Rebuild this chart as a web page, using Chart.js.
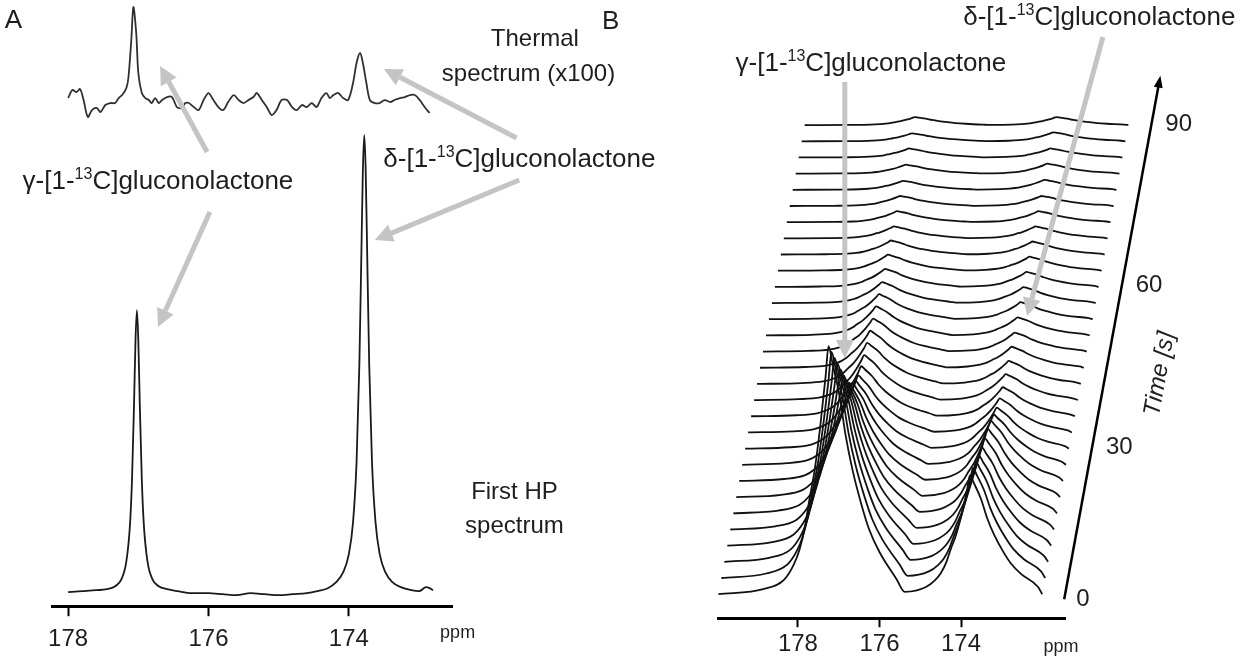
<!DOCTYPE html>
<html>
<head>
<meta charset="utf-8">
<script src="https://cdn.jsdelivr.net/npm/chart.js@4.4.0/dist/chart.umd.min.js"></script>
<style>
  body { margin: 0; background: #fff; width: 1249px; height: 659px; overflow: hidden; position: relative; }
  canvas { position: absolute; top: 0; }
  #chartA { left: 0; }
  #chartB { left: 600px; }
</style>
</head>
<body>
<canvas id="chartA" width="700" height="663"></canvas>
<canvas id="chartB" width="649" height="662"></canvas>
<script>
const FONT = "'Liberation Sans', Arial, sans-serif";
const ARROW_GREY = '#c4c4c4';

// ---- panel A : thermal (x100) and first hyperpolarised spectrum ----
const ppmTicksA = [178, 176, 174];

const thermalPpm = [178.00, 177.94, 177.88, 177.83, 177.78, 177.72, 177.66, 177.59, 177.54, 177.47,
  177.40, 177.33, 177.28, 177.23, 177.17, 177.14, 177.10, 177.07, 177.03, 177.00,
  176.95, 176.90, 176.85, 176.81, 176.76, 176.71, 176.66, 176.59, 176.52, 176.45,
  176.38, 176.33, 176.28, 176.21, 176.14, 176.07, 176.00, 175.93, 175.86, 175.79,
  175.72, 175.64, 175.57, 175.50, 175.43, 175.36, 175.31, 175.24, 175.17, 175.10,
  175.03, 174.96, 174.88, 174.81, 174.74, 174.67, 174.60, 174.53, 174.46, 174.39,
  174.32, 174.27, 174.22, 174.15, 174.08, 174.01, 173.94, 173.89, 173.84, 173.80,
  173.75, 173.70, 173.63, 173.56, 173.49, 173.41, 173.35, 173.27, 173.20, 173.13,
  173.06, 172.99, 172.92, 172.85];
const thermalVal = [508, 516, 514, 517, 506, 489, 496, 498, 494, 501,
  503, 503, 508, 511, 518, 529, 566, 599, 573, 533,
  513, 508, 506, 503, 508, 503, 506, 509, 509, 499,
  498, 503, 503, 499, 496, 506, 513, 506, 499, 496,
  504, 511, 506, 503, 506, 509, 513, 506, 499, 491,
  496, 506, 506, 499, 496, 501, 499, 503, 499, 508,
  513, 508, 511, 513, 508, 506, 523, 543, 553, 543,
  523, 506, 503, 503, 506, 504, 506, 508, 509, 511,
  511, 506, 499, 493];

const hpPpm = [178.00, 177.80, 177.60, 177.45, 177.33, 177.24, 177.17, 177.12, 177.09, 177.06,
  177.04, 177.02, 177.00, 176.98, 176.95, 176.92, 176.87, 176.80, 176.71, 176.59,
  176.44, 176.24, 176.00, 175.80, 175.60, 175.40, 175.20, 175.00, 174.80, 174.60,
  174.45, 174.30, 174.18, 174.08, 174.00, 173.94, 173.89, 173.85, 173.82, 173.80,
  173.78, 173.76, 173.74, 173.71, 173.67, 173.62, 173.56, 173.48, 173.38, 173.26,
  173.11, 173.00, 172.90, 172.85, 172.80];
const hpVal = [14, 15, 16, 17, 20, 27, 45, 80, 126, 205,
  266, 296, 266, 205, 126, 80, 45, 27, 20, 17,
  15, 13, 13, 12, 11, 13, 12, 11, 12, 13,
  15, 18, 24, 34, 52, 84, 144, 242, 358, 436,
  471, 436, 358, 242, 144, 84, 52, 34, 24, 19,
  16, 15, 19, 18, 16];

// ---- panel B : stacked spectra over time ----
const ppmTicksB = [178, 176, 174];
const traceTimes = [0, 3, 6, 9, 12, 15, 18, 21, 24, 27, 30, 33, 36, 39, 42,
  45, 48, 51, 54, 57, 60, 63, 66, 69, 72, 75, 78, 81, 84, 87];
const gammaHeight = [248, 226, 204, 182, 160, 138, 117, 98, 82, 68, 57, 50, 45, 41, 37,
  33, 29, 25, 21, 18, 16, 14, 12, 11, 10, 9, 9, 9, 8, 8];
const deltaHeight = [119, 110, 100, 90, 82, 75, 68, 60, 50, 41, 34, 29, 26, 23, 21,
  19, 18, 17, 16, 15, 14, 13, 12, 11, 10, 10, 10, 9, 9, 8];
// common line shape of one resonance (offset in ppm to lower shift, relative height)
const peakOffsets = [-1.6, -1.08, -0.85, -0.71, -0.58, -0.47, -0.34, -0.2, -0.07, 0,
  0.1, 0.27, 0.42, 0.59, 0.81, 1.0, 1.25, 1.67];
const peakShape = [0.02, 0.06, 0.12, 0.18, 0.27, 0.38, 0.5, 0.68, 0.88, 1.0,
  0.93, 0.8, 0.64, 0.5, 0.36, 0.26, 0.17, 0.06];
const timeTicks = [0, 30, 60, 90];

// waterfall geometry
const gammaPpm = 177.25, deltaPpm = 173.78;
const traceStart = 179.95, traceEnd = 172.01;
const baseStart = 24, risePerSec = 5.39, ppmShiftPerSec = 0.0243;
const axisStartPpm = 171.47, axisStartVal = 19, axisEndTime = 96;

function buildTrace(k) {
  const t = traceTimes[k];
  const shift = t * ppmShiftPerSec;
  const base = baseStart + t * risePerSec;
  const pts = [{ x: traceStart - shift, y: base }];
  peakOffsets.forEach((o, j) => pts.push({ x: gammaPpm - o - shift, y: base + gammaHeight[k] * peakShape[j] }));
  peakOffsets.forEach((o, j) => pts.push({ x: deltaPpm - o - shift, y: base + deltaHeight[k] * peakShape[j] }));
  pts.push({ x: traceEnd - shift, y: base });
  return pts;
}

function timeAxisPoint(t) {
  return { x: axisStartPpm - t * ppmShiftPerSec, y: axisStartVal + t * risePerSec };
}

// ---- drawing helpers ----
function toPx(chart, p, v) {
  return [chart.scales.x.getPixelForValue(p), chart.scales.y.getPixelForValue(v)];
}

function drawText(ctx, parts, cx, cy, size, align) {
  ctx.save();
  ctx.fillStyle = '#1e1e1e';
  ctx.textBaseline = 'alphabetic';
  ctx.textAlign = 'left';
  const supSize = Math.round(size * 0.62);
  let w = 0;
  parts.forEach((p) => {
    ctx.font = (p.sup ? supSize : size) + 'px ' + FONT;
    p.w = ctx.measureText(p.t).width;
    w += p.w;
  });
  let x = align === 'left' ? cx : cx - w / 2;
  const yb = cy + size * 0.36;
  parts.forEach((p) => {
    ctx.font = (p.sup ? supSize : size) + 'px ' + FONT;
    ctx.fillText(p.t, x, p.sup ? yb - size * 0.4 : yb);
    x += p.w;
  });
  ctx.restore();
}

function greyArrow(ctx, x1, y1, x2, y2) {
  const a = Math.atan2(y2 - y1, x2 - x1);
  const head = 18, half = 9;
  const bx = x2 - head * Math.cos(a), by = y2 - head * Math.sin(a);
  ctx.save();
  ctx.strokeStyle = ARROW_GREY;
  ctx.fillStyle = ARROW_GREY;
  ctx.lineWidth = 5;
  ctx.beginPath();
  ctx.moveTo(x1, y1);
  ctx.lineTo(bx, by);
  ctx.stroke();
  ctx.beginPath();
  ctx.moveTo(x2, y2);
  ctx.lineTo(bx + half * Math.sin(a), by - half * Math.cos(a));
  ctx.lineTo(bx - half * Math.sin(a), by + half * Math.cos(a));
  ctx.closePath();
  ctx.fill();
  ctx.restore();
}

const gammaLabel = [{ t: 'γ-[1-' }, { t: '13', sup: true }, { t: 'C]gluconolactone' }];
const deltaLabel = [{ t: 'δ-[1-' }, { t: '13', sup: true }, { t: 'C]gluconolactone' }];

// annotations, placed in data units of each panel
const notesA = [
  { parts: [{ t: 'A' }], p: 178.78, v: 587, size: 26 },
  { parts: [{ t: 'Thermal' }], p: 171.35, v: 569, size: 24 },
  { parts: [{ t: 'spectrum (x100)' }], p: 171.44, v: 534, size: 24 },
  { parts: gammaLabel, p: 176.72, v: 426, size: 26 },
  { parts: deltaLabel, p: 171.57, v: 448, size: 26 },
  { parts: [{ t: 'First HP' }], p: 171.64, v: 116, size: 24 },
  { parts: [{ t: 'spectrum' }], p: 171.64, v: 82, size: 24 },
  { parts: [{ t: 'ppm' }], p: 172.45, v: -25, size: 18 },
];
const arrowsA = [
  [176.02, 454, 176.69, 540],
  [175.98, 394, 176.72, 279],
  [171.61, 468, 173.50, 537],
  [171.57, 426, 173.63, 366],
];
const notesB = [
  { parts: [{ t: 'B' }], p: 182.59, v: 598, size: 26 },
  { parts: gammaLabel, p: 176.21, v: 556, size: 26 },
  { parts: deltaLabel, p: 170.61, v: 602, size: 26 },
  { parts: [{ t: 'ppm' }], p: 171.55, v: -27, size: 18 },
];
const arrowsB = [
  [176.85, 536, 176.85, 260],
  [170.52, 581, 172.38, 302],
];

const notesPluginA = {
  id: 'notesA',
  afterDraw(chart) {
    const ctx = chart.ctx;
    arrowsA.forEach((a) => {
      const [x1, y1] = toPx(chart, a[0], a[1]);
      const [x2, y2] = toPx(chart, a[2], a[3]);
      greyArrow(ctx, x1, y1, x2, y2);
    });
    notesA.forEach((n) => {
      const [x, y] = toPx(chart, n.p, n.v);
      drawText(ctx, n.parts, x, y, n.size);
    });
  },
};

const notesPluginB = {
  id: 'notesB',
  afterDraw(chart) {
    const ctx = chart.ctx;
    // arrow head of the time axis
    const p0 = timeAxisPoint(0), p1 = timeAxisPoint(axisEndTime);
    const [ax0, ay0] = toPx(chart, p0.x, p0.y);
    const [ax1, ay1] = toPx(chart, p1.x, p1.y);
    const a = Math.atan2(ay1 - ay0, ax1 - ax0);
    ctx.save();
    ctx.fillStyle = '#000';
    ctx.beginPath();
    ctx.moveTo(ax1 + 6 * Math.cos(a), ay1 + 6 * Math.sin(a));
    ctx.lineTo(ax1 - 6 * Math.cos(a) + 4.5 * Math.sin(a), ay1 - 6 * Math.sin(a) - 4.5 * Math.cos(a));
    ctx.lineTo(ax1 - 6 * Math.cos(a) - 4.5 * Math.sin(a), ay1 - 6 * Math.sin(a) + 4.5 * Math.cos(a));
    ctx.closePath();
    ctx.fill();
    ctx.restore();
    timeTicks.forEach((t) => {
      const q = timeAxisPoint(t);
      const [x, y] = toPx(chart, q.x, q.y);
      drawText(ctx, [{ t: String(t) }], x + 12, y + (t === 0 ? -2 : 8), 24, 'left');
    });
    // axis title, rotated along the time axis
    const qm = timeAxisPoint(44);
    const [mx, my] = toPx(chart, qm.x, qm.y);
    ctx.save();
    ctx.translate(mx + 52, my + 12);
    ctx.rotate(a);
    ctx.font = 'italic 24px ' + FONT;
    ctx.fillStyle = '#1e1e1e';
    ctx.textAlign = 'center';
    ctx.textBaseline = 'middle';
    ctx.fillText('Time [s]', 0, 0);
    ctx.restore();
    arrowsB.forEach((r) => {
      const [x1, y1] = toPx(chart, r[0], r[1]);
      const [x2, y2] = toPx(chart, r[2], r[3]);
      greyArrow(ctx, x1, y1, x2, y2);
    });
    notesB.forEach((n) => {
      const [x, y] = toPx(chart, n.p, n.v);
      drawText(ctx, n.parts, x, y, n.size);
    });
  },
};

function ppmAxis(min, max, ticks, tickLength, padding) {
  return {
    type: 'linear',
    reverse: true,
    min: min,
    max: max,
    afterBuildTicks: (s) => { s.ticks = ticks.map((v) => ({ value: v })); },
    grid: { display: true, drawOnChartArea: false, drawTicks: true, tickLength: tickLength, tickWidth: 2, tickColor: '#000' },
    border: { display: true, color: '#000', width: 3 },
    ticks: { color: '#1e1e1e', font: { family: FONT, size: 24 }, padding: padding, maxRotation: 0, autoSkip: false },
  };
}

new Chart(document.getElementById('chartA'), {
  type: 'line',
  data: {
    datasets: [
      {
        label: 'Thermal spectrum (x100)',
        data: thermalPpm.map((p, i) => ({ x: p, y: thermalVal[i] })),
        borderColor: '#303030',
        borderWidth: 1.8,
        pointRadius: 0,
        tension: 0.3,
      },
      {
        label: 'First HP spectrum',
        data: hpPpm.map((p, i) => ({ x: p, y: hpVal[i] })),
        borderColor: '#1a1a1a',
        borderWidth: 1.8,
        pointRadius: 0,
        cubicInterpolationMode: 'monotone',
      },
    ],
  },
  options: {
    responsive: false,
    animation: false,
    devicePixelRatio: 1,
    events: [],
    layout: { padding: { left: 52, right: 248, top: 0, bottom: 0 } },
    scales: {
      x: ppmAxis(172.53, 178.23, ppmTicksA, 10, 9),
      y: { type: 'linear', display: false, min: 0, max: 606 },
    },
    plugins: { legend: { display: false }, tooltip: { enabled: false } },
  },
  plugins: [notesPluginA],
});

const traceSets = traceTimes.map((t, k) => ({
  label: t + ' s',
  data: buildTrace(k),
  borderColor: '#111',
  borderWidth: 1.8,
  pointRadius: 0,
  cubicInterpolationMode: 'monotone',
  clip: false,
}));

new Chart(document.getElementById('chartB'), {
  type: 'line',
  data: {
    datasets: [
      {
        label: 'Time axis',
        data: [timeAxisPoint(0), timeAxisPoint(axisEndTime)],
        borderColor: '#000',
        borderWidth: 2.5,
        pointRadius: 0,
        clip: false,
      },
      ...traceSets,
    ],
  },
  options: {
    responsive: false,
    animation: false,
    devicePixelRatio: 1,
    events: [],
    layout: { padding: { left: 118, right: 184, top: 0, bottom: 0 } },
    scales: {
      x: ppmAxis(171.45, 179.96, ppmTicksB, 9, 3),
      y: { type: 'linear', display: false, min: 0, max: 618 },
    },
    plugins: { legend: { display: false }, tooltip: { enabled: false } },
  },
  plugins: [notesPluginB],
});
</script>
</body>
</html>
